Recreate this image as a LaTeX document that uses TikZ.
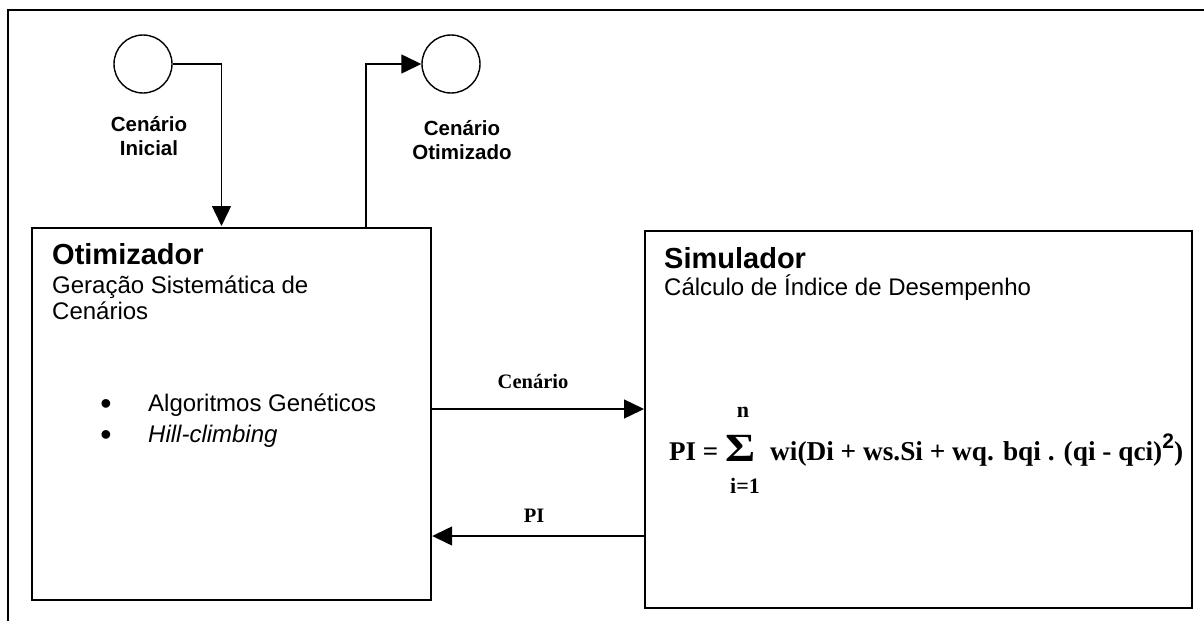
\documentclass[tikz,border=0pt]{standalone}
\usepackage{fontspec}
\setmainfont{Liberation Sans}
\newfontfamily\tms{Liberation Serif}
\usetikzlibrary{arrows.meta}
\begin{document}
\begin{tikzpicture}[x=1pt,y=-1pt,
  conn/.style={line width=1.4pt,-{Triangle[length=20pt,width=19pt]}},
  box/.style={draw,line width=2.2pt,anchor=north west,inner sep=0pt},
  bubble/.style={draw,circle,line width=1.4pt,minimum size=58pt,inner sep=0pt},
  txt/.style={anchor=base west,inner sep=0pt},
  ctxt/.style={anchor=base,inner sep=0pt},
  title/.style={txt,font=\bfseries\fontsize{29}{30}\selectfont},
  body/.style={txt,font=\fontsize{24}{26}\selectfont},
  bul/.style={ctxt,font=\fontsize{32}{34}\selectfont},
  lbl/.style={align=center,inner sep=0pt,anchor=base,font=\bfseries\fontsize{20.5}{23.5}\selectfont},
  arrlbl/.style={ctxt,font=\tms\bfseries\fontsize{20.5}{22}\selectfont},
  lim/.style={ctxt,font=\tms\bfseries\fontsize{22}{24}\selectfont}
]
\useasboundingbox (0,0) rectangle (1204,621);
% outer frame (top and left only)
\draw[line width=1.8pt] (8,621) -- (8,10) -- (1204,10);

% boxes
\node[box,minimum width=399pt,minimum height=372pt] (otim) at (31,227) {};
\node[box,minimum width=547pt,minimum height=377pt] (sim) at (644,230) {};

% bubbles
\node[bubble] (ini) at (143,64) {};
\node[bubble] (fin) at (451,64) {};
\node[lbl] (inilbl) at (149,155) {Cenário\\Inicial};
\node[lbl] (finlbl) at (462,159) {Cenário\\Otimizado};

% connectors
\coordinate (inT) at (221.5,226);
\coordinate (outB) at (366,227);
\draw[conn] (ini.east) -| (inT);
\draw[conn] (outB) |- (fin.west);
\coordinate (yc) at (0,409);
\coordinate (yp) at (0,536);
\draw[conn] (otim.east |- yc) -- (sim.west |- yc);
\draw[conn] (sim.west |- yp) -- (otim.east |- yp);
\node[arrlbl] (lc) at (533,388) {Cenário};
\node[arrlbl] (lp) at (534,522) {PI};

% Otimizador text
\node[title] (t1) at (52,264) {Otimizador};
\node[body] (t1a) at (52,293) {Geração Sistemática de};
\node[body] (t1b) at (52,319) {Cenários};
\node[bul] (b1) at (106,414) {•};
\node[bul] (b2) at (106,445) {•};
\node[body] (i1) at (148,411) {Algoritmos Genéticos};
\node[body] (i2) at (148,442) {\itshape Hill-climbing};

% Simulador text
\node[title] (t2) at (664,268) {Simulador};
\node[body] (t2a) at (664,295) {Cálculo de Índice de Desempenho};

% formula
\node[txt,font=\tms\bfseries\fontsize{27}{30}\selectfont] (pi) at (669,460) {PI =};
\node[ctxt,font=\tms\bfseries\fontsize{40}{40}\selectfont] (sig) at (741,461) {\scalebox{1.15}[1]{Σ}};
\node[lim] (n) at (743,417) {n};
\node[lim] (i1b) at (745,493) {i=1};
\node[txt,font=\tms\bfseries\fontsize{27.3}{30}\selectfont] (rest) at (770,460) {wi(Di + ws.Si + wq. bqi . (qi - qci)\raisebox{0.42em}{\normalfont\bfseries\fontsize{21}{22}\selectfont 2})};
\end{tikzpicture}
\end{document}
